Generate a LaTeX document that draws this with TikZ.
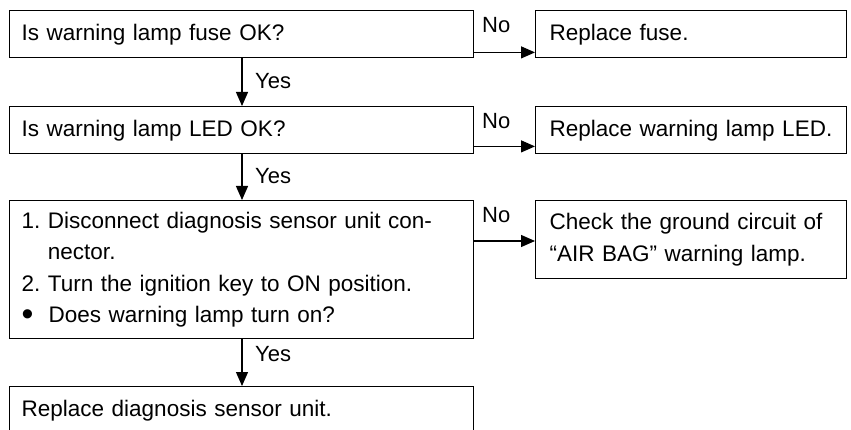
\documentclass[tikz,border=0pt]{standalone}
\usepackage{fontspec}
\setmainfont{Liberation Sans}
\usetikzlibrary{arrows.meta}
\begin{document}
\begin{tikzpicture}[x=1pt,y=-1pt,
  box/.style={draw, line width=1.4pt, inner xsep=12pt, inner ysep=0pt, anchor=north west, align=left,
    font=\fontsize{22.5}{31.5}\selectfont},
  conn/.style={line width=1.2pt, -{Triangle[length=14pt,width=12pt]}},
  lbl/.style={font=\fontsize{22}{24}\selectfont, inner sep=0pt, anchor=west}]
\useasboundingbox (0,0) rectangle (851,430);
% question boxes
\node[box, minimum width=464pt, minimum height=47pt, text width=440pt] (q1) at (9,10) {Is warning lamp fuse OK?};
\node[box, minimum width=464pt, minimum height=47pt, text width=440pt] (q2) at (9,106) {Is warning lamp LED OK?};
\node[box, minimum width=464pt, minimum height=138pt, text width=440pt] (q3) at (9,200)
  {1.~Disconnect diagnosis sensor unit con-\\
   \phantom{1.~}nector.\\
   2.~Turn the ignition key to ON position.\\
   \raisebox{-2.8pt}{\scalebox{1.5}{\textbullet}}\ \ Does warning lamp turn on?};
\node[box, minimum width=464pt, minimum height=47pt, text width=440pt] (q4) at (9,386) {Replace diagnosis sensor unit.};
% result boxes
\node[box, minimum width=311pt, minimum height=47pt, text width=283pt, inner xsep=14pt] (r1) at (535,10) {Replace fuse.};
\node[box, minimum width=311pt, minimum height=47pt, text width=283pt, inner xsep=14pt] (r2) at (535,106) {Replace warning lamp LED.};
\node[box, minimum width=311pt, minimum height=78pt, text width=283pt, inner xsep=14pt] (r3) at (535,200)
  {Check the ground circuit of\\``AIR BAG'' warning lamp.};
% Yes connectors
\draw[conn] (q1.south -| 242,0) -- (q2.north -| 242,0);
\draw[conn] (q2.south -| 242,0) -- (q3.north -| 242,0);
\draw[conn] (q3.south -| 242,0) -- (q4.north -| 242,0);
\node[lbl] (y1) at (255,81) {Yes};
\node[lbl] (y2) at (255,176) {Yes};
\node[lbl] (y3) at (255,354) {Yes};
% No connectors
\draw[conn] ([yshift=6pt]q1.south east) -- ([yshift=6pt]q1.south east -| r1.west);
\draw[conn] ([yshift=8pt]q2.south east) -- ([yshift=8pt]q2.south east -| r2.west);
\draw[conn] ([yshift=-41pt]q3.north east) -- ([yshift=-41pt]q3.north east -| r3.west);
\node[lbl] (n1) at (482,25) {No};
\node[lbl] (n2) at (482,121) {No};
\node[lbl] (n3) at (482,215) {No};
\end{tikzpicture}
\end{document}
